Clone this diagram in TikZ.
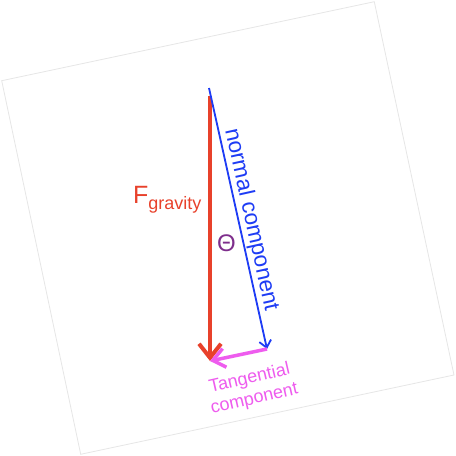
\documentclass[tikz,border=0pt]{standalone}
\usepackage{fontspec}
\setmainfont{Liberation Sans}
\usetikzlibrary{arrows.meta}
\definecolor{fred}{HTML}{E8412B}
\definecolor{nblue}{HTML}{1E3CF5}
\definecolor{tmag}{HTML}{EE5CEE}
\definecolor{thpurple}{HTML}{7E2E8C}
\definecolor{pageline}{HTML}{E6E6E6}
\tikzset{
  pageedge/.style={draw=pageline, line width=0.8pt, fill=white},
  gravarrow/.style={draw=fred, line width=4pt, -{Straight Barb[length=14pt,width=22pt]}},
  normarrow/.style={draw=nblue, line width=1.8pt, -{Straight Barb[length=7pt,width=12pt]}},
  tanarrow/.style={draw=tmag, line width=3.5pt, -{Straight Barb[length=12pt,width=19pt]}},
  normlabel/.style={text=nblue, font=\fontsize{22.5}{26}\selectfont, inner sep=1pt},
  tanlabel/.style={text=tmag, font=\fontsize{18}{21}\selectfont, align=center, inner sep=0pt},
  gravlabel/.style={text=fred, inner sep=0pt},
  thetalabel/.style={text=thpurple, font=\fontsize{24}{28}\selectfont, inner sep=0pt}
}
\begin{document}
\begin{tikzpicture}[x=1pt, y=-1pt]
\useasboundingbox (0,0) rectangle (456,456);
\path[pageedge] (1.7,80.7) -- (374.3,1.7) -- (454,375) -- (80.7,454.3) -- cycle;
\coordinate (top) at (209,88);
\coordinate (rs) at (210,96);
\coordinate (re) at (210,361);
\coordinate (be) at (267,349);
\draw[gravarrow] (rs) -- (re);
\draw[normarrow] (top) -- node[pos=0.515, sloped, above, normlabel] (nlab) {normal component} (be);
\draw[tanarrow] (be) -- (re);
\node[gravlabel, anchor=base west] (grav) at (133,203) {\fontsize{25}{30}\selectfont F\raisebox{-6.5pt}{\fontsize{18}{21}\selectfont gravity}};
\node[thetalabel] (theta) at (226.5,243.5) {Θ};
\node[tanlabel, rotate=13] (tlab) at (252,389) {Tangential\\component};
\end{tikzpicture}
\end{document}
